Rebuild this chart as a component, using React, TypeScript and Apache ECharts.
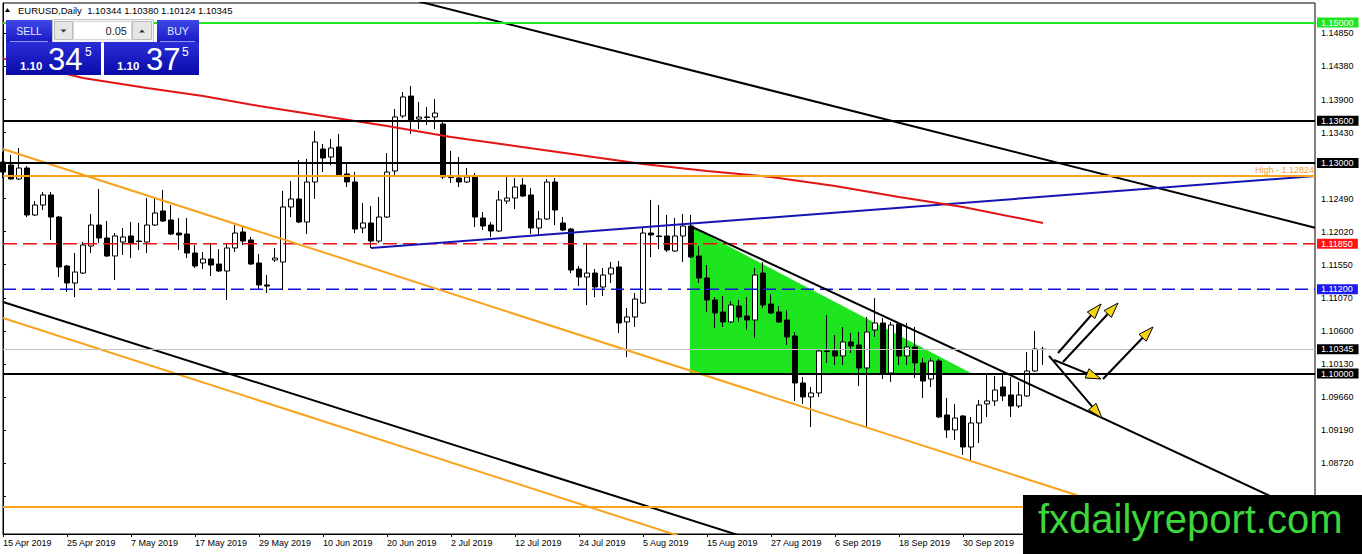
import { useEffect, useRef } from "react";
import * as echarts from "echarts";

const FONT = "'Liberation Sans', Arial, sans-serif";
const START_DATE = "2019-04-15";
const SLOTS = 165; // bars on the time axis, incl. empty future space
const LAST_LABEL = 120; // later date labels sit under the watermark
const Y_MIN = 1.077137;
const Y_MAX = 1.152778;

// daily candles, 15 Apr 2019 .. 14 Oct 2019
const opens = [
  1.13013, 1.1297, 1.12771, 1.12927, 1.12258, 1.124, 1.12543, 1.12229, 1.11531, 1.11289,
  1.11431, 1.11816, 1.12115, 1.1193, 1.11674, 1.11873, 1.11959, 1.11887, 1.11873, 1.12115,
  1.12315, 1.12187, 1.12001, 1.11987, 1.11716, 1.11574, 1.11631, 1.1156, 1.1146, 1.11788,
  1.12016, 1.11902, 1.11574, 1.11261, 1.11617, 1.11588, 1.12372, 1.12486, 1.12158, 1.12728,
  1.13198, 1.13084, 1.13227, 1.12842, 1.12728, 1.12073, 1.12144, 1.11887, 1.12229, 1.12885,
  1.13668, 1.13953, 1.13625, 1.13654, 1.13654, 1.13554, 1.12799, 1.12785, 1.12728, 1.12799,
  1.12215, 1.12115, 1.1203, 1.12457, 1.125, 1.12685, 1.12543, 1.12073, 1.12201, 1.12728,
  1.12144, 1.12058, 1.11488, 1.11374, 1.11431, 1.11232, 1.11417, 1.11517, 1.10734, 1.10805,
  1.11004, 1.12001, 1.11959, 1.11959, 1.11745, 1.11959, 1.12101, 1.11674, 1.1136, 1.11047,
  1.10876, 1.10734, 1.10961, 1.10819, 1.10762, 1.11431, 1.1099, 1.10876, 1.10762, 1.10534,
  1.09865, 1.09666, 1.09723, 1.10321, 1.10321, 1.1025, 1.10449, 1.10406, 1.10079, 1.1062,
  1.10719, 1.10007, 1.10705, 1.1025, 1.10378, 1.1015, 1.09922, 1.10178, 1.09409, 1.09196,
  1.09395, 1.08953, 1.09295, 1.09566, 1.09609, 1.09808, 1.09694, 1.09537, 1.0968, 1.10036,
  1.10344,
];
const closes = [
  1.1287, 1.12771, 1.12927, 1.12258, 1.124, 1.12543, 1.12229, 1.11517, 1.11289, 1.11446,
  1.1183, 1.12115, 1.1193, 1.11674, 1.11959, 1.11944, 1.11859, 1.1188, 1.12115, 1.12286,
  1.12172, 1.11987, 1.11973, 1.11716, 1.11531, 1.11631, 1.11545, 1.1146, 1.11788, 1.12001,
  1.11887, 1.1156, 1.11261, 1.11246, 1.11645, 1.12372, 1.12486, 1.12158, 1.12728, 1.13298,
  1.1307, 1.13212, 1.12828, 1.12728, 1.12058, 1.12144, 1.11887, 1.12229, 1.1287, 1.13654,
  1.13939, 1.13611, 1.13654, 1.13647, 1.13711, 1.12799, 1.12792, 1.12728, 1.12799, 1.12229,
  1.12101, 1.1203, 1.12472, 1.125, 1.12657, 1.12528, 1.12073, 1.12201, 1.12728, 1.12329,
  1.12044, 1.11474, 1.11374, 1.11431, 1.11232, 1.11403, 1.11503, 1.10719, 1.10805, 1.11061,
  1.12001, 1.11973, 1.11951, 1.11759, 1.11959, 1.12101, 1.11659, 1.1136, 1.11047, 1.10862,
  1.10734, 1.10976, 1.10805, 1.10762, 1.11403, 1.10976, 1.10862, 1.10734, 1.1052, 1.09865,
  1.09666, 1.09723, 1.10321, 1.10314, 1.1025, 1.10449, 1.10392, 1.10079, 1.10591, 1.10719,
  1.10007, 1.10691, 1.1025, 1.10378, 1.1015, 1.09893, 1.10178, 1.09381, 1.09196, 1.09366,
  1.08953, 1.09295, 1.09551, 1.09609, 1.09765, 1.0968, 1.09537, 1.09694, 1.10036, 1.10349,
  1.10345,
];
const lows = [
  1.12785, 1.12757, 1.12757, 1.12229, 1.12244, 1.12329, 1.11902, 1.11374, 1.11161, 1.11089,
  1.11417, 1.11716, 1.11859, 1.11659, 1.11332, 1.11688, 1.11645, 1.11759, 1.11716, 1.12101,
  1.12158, 1.11973, 1.11759, 1.11645, 1.11503, 1.11488, 1.11389, 1.11446, 1.11047, 1.11731,
  1.1183, 1.11545, 1.11203, 1.11146, 1.11588, 1.11189, 1.12229, 1.12144, 1.11987, 1.12486,
  1.1287, 1.1297, 1.12799, 1.12657, 1.12001, 1.12001, 1.11788, 1.11859, 1.12215, 1.12828,
  1.1364, 1.13412, 1.13483, 1.1354, 1.13483, 1.12771, 1.12714, 1.12657, 1.12714, 1.12087,
  1.12044, 1.11944, 1.12016, 1.12415, 1.12343, 1.12514, 1.11987, 1.11959, 1.12187, 1.12115,
  1.1203, 1.11431, 1.11246, 1.10976, 1.11089, 1.11104, 1.11289, 1.10577, 1.10235, 1.10662,
  1.1099, 1.11659, 1.11773, 1.11731, 1.11731, 1.11588, 1.11645, 1.11289, 1.10876, 1.10648,
  1.10662, 1.10719, 1.10734, 1.1062, 1.10506, 1.10933, 1.10848, 1.10719, 1.10406, 1.09609,
  1.09566, 1.09238, 1.09666, 1.1015, 1.10121, 1.10121, 1.10292, 1.09822, 1.09238, 1.1052,
  1.09922, 1.09879, 1.10121, 1.10121, 1.09936, 1.09651, 1.09808, 1.09366, 1.09082, 1.09053,
  1.08839, 1.08768, 1.0901, 1.09381, 1.09537, 1.09609, 1.09381, 1.09509, 1.09666, 1.10022,
  1.10124,
];
const highs = [
  1.13155, 1.13113, 1.13212, 1.12956, 1.12457, 1.12585, 1.12585, 1.12244, 1.11545, 1.11716,
  1.11873, 1.12272, 1.12628, 1.12172, 1.12001, 1.12073, 1.12158, 1.12144, 1.125, 1.125,
  1.12614, 1.124, 1.12215, 1.12215, 1.1183, 1.11731, 1.11859, 1.11773, 1.11845, 1.12115,
  1.12101, 1.11944, 1.11702, 1.11403, 1.11788, 1.126, 1.12742, 1.13041, 1.13056, 1.13454,
  1.13269, 1.1334, 1.13412, 1.13013, 1.1287, 1.12429, 1.12386, 1.12514, 1.13141, 1.13768,
  1.1401, 1.14095, 1.13868, 1.13796, 1.1391, 1.13611, 1.1317, 1.13084, 1.12927, 1.12856,
  1.12301, 1.12158, 1.126, 1.12813, 1.12785, 1.12785, 1.12643, 1.12315, 1.12771, 1.12785,
  1.12229, 1.12073, 1.11531, 1.11859, 1.11488, 1.11503, 1.11588, 1.11602, 1.10933, 1.11146,
  1.12087, 1.12472, 1.124, 1.12258, 1.12215, 1.12272, 1.12258, 1.11816, 1.11545, 1.11089,
  1.11104, 1.11032, 1.11047, 1.11089, 1.11503, 1.11588, 1.11132, 1.10961, 1.10904, 1.10591,
  1.0995, 1.09808, 1.10335, 1.10833, 1.10548, 1.10662, 1.10577, 1.10591, 1.10805, 1.11075,
  1.10791, 1.10734, 1.10719, 1.10719, 1.10662, 1.10221, 1.10221, 1.10207, 1.09651, 1.09566,
  1.09409, 1.09381, 1.09623, 1.09993, 1.09965, 1.09979, 1.0995, 1.09879, 1.10306, 1.10605,
  1.1038,
];

// right axis ticks (MT4 rounds its step); 1.12960 sits under the 1.13000 box
const yTicks = [
  1.1485, 1.1438, 1.139, 1.1343, 1.1296, 1.1249, 1.1202, 1.1155, 1.1107, 1.106, 1.1013,
  1.0966, 1.0919, 1.0872, 1.0825,
];
const yTickLabels = [
  1.1485, 1.1438, 1.139, 1.1343, 1.1249, 1.1202, 1.1155, 1.1107, 1.106, 1.1013, 1.0966,
  1.0919, 1.0872,
];

// horizontal levels
const LEVEL_GREEN = 1.15;
const LEVEL_BLACK_HI = 1.136;
const LEVEL_BLACK_MID = 1.13;
const LEVEL_HIGH = 1.12824;
const LEVEL_RED = 1.1185;
const LEVEL_BLUE = 1.112;
const LEVEL_LAST = 1.10345;
const LEVEL_BLACK_LO = 1.1;
const LEVEL_ORANGE_LO = 1.08098;

// trend lines, [bar index, price]
const upperBlackLine = [[52, 1.15299], [164, 1.12077]];
const blueLine = [[46, 1.11788], [164, 1.12813]];
const fallingLine = [[85.875, 1.12101], [164, 1.07956]];
const orangeUpper = [[0, 1.13198], [164, 1.07172]];
const orangeLower = [[0, 1.10791], [164, 1.04765]];
const blackLower = [[0, 1.11019], [164, 1.05093]];

// moving average
const maIdx = [0, 10, 18, 25, 32, 40, 48, 56, 64, 72, 80, 88, 96, 104, 112, 120, 130];
const maVal = [
  1.14489, 1.14209, 1.14067, 1.13953, 1.13811, 1.13668, 1.13526, 1.13369, 1.13241, 1.13113,
  1.12984, 1.12885, 1.12799, 1.12671, 1.12514, 1.12372, 1.12144,
];

// green triangle
const triIdx = [85.875, 121.1, 85.875];
const triVal = [1.12101, 1.1, 1.1];

// arrows
const arrowFromIdx = [131.875, 132.5, 131.375, 137.5, 130.75];
const arrowFromVal = [1.10292, 1.10164, 1.10192, 1.09922, 1.1025];
const arrowToIdx = [137.25, 139.375, 137.25, 143.75, 137.375];
const arrowToVal = [1.1099, 1.11004, 1.09922, 1.10663, 1.09366];

const MONTHS = ["Jan", "Feb", "Mar", "Apr", "May", "Jun", "Jul", "Aug", "Sep", "Oct", "Nov", "Dec"];

function tradingDays(start: string, n: number): string[] {
  const d = new Date(start + "T00:00:00Z");
  const out: string[] = [];
  while (out.length < n) {
    const wd = d.getUTCDay();
    if (wd !== 0 && wd !== 6) {
      out.push(`${d.getUTCDate()} ${MONTHS[d.getUTCMonth()]} ${d.getUTCFullYear()}`);
    }
    d.setUTCDate(d.getUTCDate() + 1);
  }
  return out;
}

function boxLabel(text: string, bg: string) {
  return {
    show: true,
    position: "end",
    formatter: text,
    backgroundColor: bg,
    color: "#fff",
    fontSize: 9,
    fontFamily: FONT,
    padding: [1, 5, 0, 4],
    distance: 2,
  };
}

function level(value: number, color: string, width: number, label: any) {
  return { yAxis: value, lineStyle: { color, width, type: "solid" }, label };
}

const blueGrad = (a: string, b: string) =>
  new echarts.graphic.LinearGradient(0, 0, 0, 1, [
    { offset: 0, color: a },
    { offset: 1, color: b },
  ]);

export default function App() {
  const chartRef = useRef<HTMLDivElement>(null);

  useEffect(() => {
    if (!chartRef.current) return;
    const chart = echarts.init(chartRef.current, undefined, { renderer: "svg" });

    const dates = tradingDays(START_DATE, SLOTS);
    const candles = opens.map((o, i) => [o, closes[i], lows[i], highs[i]]);
    const every8 = (i: number) => i % 8 === 0 && i <= LAST_LABEL;
    const trend = (data: number[][], color: string, width = 2, type: any = "solid") => ({
      type: "line",
      xAxisIndex: 1,
      yAxisIndex: 0,
      data,
      symbol: "none",
      silent: true,
      z: 3,
      lineStyle: { color, width, type },
    });
    const flat = (p: number) => [[0, p], [SLOTS - 1, p]];
    const arrowRows = arrowFromIdx.map((x, k) => [x, arrowFromVal[k], arrowToIdx[k], arrowToVal[k]]);

    const option: any = {
      animation: false,
      backgroundColor: "#fff",
      textStyle: { fontFamily: FONT },
      grid: {
        left: 3,
        top: 3,
        width: 1312,
        height: 531,
        show: true,
        borderColor: "#000",
        borderWidth: 1,
        containLabel: false,
        outerBoundsMode: "none",
      },
      xAxis: [
        {
          type: "category",
          data: dates,
          boundaryGap: false,
          axisLine: { lineStyle: { color: "#000", width: 1 } },
          axisTick: { interval: every8, length: 3, lineStyle: { color: "#000" } },
          axisLabel: {
            interval: every8,
            align: "left",
            margin: 4,
            fontSize: 9,
            color: "#000",
            fontFamily: FONT,
          },
          splitLine: { show: false },
        },
        { type: "value", min: 0, max: SLOTS - 1, show: false },
      ],
      yAxis: {
        type: "value",
        position: "right",
        min: Y_MIN,
        max: Y_MAX,
        axisLine: { show: true, lineStyle: { color: "#000" } },
        axisTick: { show: true, length: 3, customValues: yTicks, lineStyle: { color: "#000" } },
        axisLabel: {
          customValues: yTickLabels,
          formatter: (v: number) => v.toFixed(5),
          fontSize: 9,
          color: "#000",
          margin: 6,
          fontFamily: FONT,
        },
        splitLine: { show: false },
      },
      series: [
        {
          type: "custom",
          xAxisIndex: 1,
          yAxisIndex: 0,
          z: 1,
          silent: true,
          data: [[triIdx[0], triVal[0]]],
          encode: { x: 0, y: 1 },
          renderItem: (_p: any, api: any) => ({
            type: "polygon",
            shape: { points: triIdx.map((x, k) => api.coord([x, triVal[k]])) },
            style: { fill: "#1ee61e" },
          }),
        },
        {
          type: "candlestick",
          xAxisIndex: 0,
          yAxisIndex: 0,
          z: 2,
          barWidth: 5,
          data: candles,
          itemStyle: {
            color: "#fff",
            color0: "#000",
            borderColor: "#000",
            borderColor0: "#000",
            borderWidth: 1,
          },
          markLine: {
            silent: true,
            symbol: ["none", "none"],
            precision: 5,
            animation: false,
            data: [
              level(LEVEL_GREEN, "#1ee61e", 2, boxLabel("1.15000", "#1ee61e")),
              level(LEVEL_BLACK_HI, "#000", 2, boxLabel("1.13600", "#000")),
              level(LEVEL_BLACK_MID, "#000", 2, boxLabel("1.13000", "#000")),
              level(LEVEL_HIGH, "#f8a31b", 2, {
                show: true,
                position: "insideEndTop",
                formatter: "High - 1.12824",
                color: "#f8a31b",
                fontSize: 9,
                fontFamily: FONT,
                distance: 1,
              }),
              // dashed levels are drawn as line series; these carry only the price boxes
              level(LEVEL_RED, "rgba(0,0,0,0)", 1, boxLabel("1.11850", "#ff1414")),
              level(LEVEL_BLUE, "rgba(0,0,0,0)", 1, boxLabel("1.11200", "#1a1af0")),
              level(LEVEL_LAST, "#c0c0c0", 1, boxLabel("1.10345", "#000")),
              level(LEVEL_BLACK_LO, "#000", 2, boxLabel("1.10000", "#000")),
              level(LEVEL_ORANGE_LO, "#f8a31b", 2, { show: false }),
            ],
          },
        },
        trend(flat(LEVEL_RED), "#ee1010", 1.5, [14, 6]),
        trend(flat(LEVEL_BLUE), "#1010dd", 1.5, [13, 6]),
        trend(upperBlackLine, "#000"),
        trend(blueLine, "#1515b5"),
        trend(fallingLine, "#000"),
        trend(orangeUpper, "#f8a31b"),
        trend(orangeLower, "#f8a31b"),
        trend(blackLower, "#000"),
        trend(
          maIdx.map((x, k) => [x, maVal[k]]),
          "#e01414"
        ),
        {
          type: "custom",
          xAxisIndex: 1,
          yAxisIndex: 0,
          z: 6,
          silent: true,
          data: arrowRows,
          encode: { x: [0, 2], y: [1, 3] },
          renderItem: (_p: any, api: any) => {
            const a = api.coord([api.value(0), api.value(1)]);
            const b = api.coord([api.value(2), api.value(3)]);
            const dx = b[0] - a[0];
            const dy = b[1] - a[1];
            const len = Math.hypot(dx, dy) || 1;
            const ux = dx / len;
            const uy = dy / len;
            const hl = 15;
            const hw = 5;
            const bx = b[0] - ux * hl;
            const by = b[1] - uy * hl;
            return {
              type: "group",
              children: [
                {
                  type: "line",
                  shape: { x1: a[0], y1: a[1], x2: bx, y2: by },
                  style: { stroke: "#000", lineWidth: 2 },
                },
                {
                  type: "polygon",
                  shape: {
                    points: [
                      [b[0], b[1]],
                      [bx - uy * hw, by + ux * hw],
                      [bx + uy * hw, by - ux * hw],
                    ],
                  },
                  style: { fill: "#f5d312", stroke: "#000", lineWidth: 1 },
                },
              ],
            };
          },
        },
      ],
      graphic: [
        // header
        { type: "polygon", z: 100, shape: { points: [[5, 12], [10, 12], [7.5, 8]] }, style: { fill: "#000" } },
        {
          type: "text",
          z: 100,
          x: 18,
          y: 10,
          style: {
            text: "EURUSD,Daily  1.10344 1.10380 1.10124 1.10345",
            fill: "#000",
            font: `9.5px ${FONT}`,
            verticalAlign: "middle",
          },
        },
        // one-click trading panel
        { type: "rect", z: 100, shape: { x: 6, y: 20, width: 46, height: 22 }, style: { fill: blueGrad("#4048e6", "#1a1ac6") } },
        { type: "text", z: 101, x: 29, y: 31, style: { text: "SELL", fill: "#e2e9ff", font: `10.5px ${FONT}`, align: "center", verticalAlign: "middle" } },
        { type: "line", z: 101, shape: { x1: 10, y1: 41.5, x2: 48, y2: 41.5 }, style: { stroke: "#8d96f0", lineWidth: 1 } },
        { type: "rect", z: 100, shape: { x: 52.5, y: 19.5, width: 101, height: 23 }, style: { fill: "#f4f4f4", stroke: "#c4c4c4", lineWidth: 1 } },
        { type: "rect", z: 101, shape: { x: 54.5, y: 21.5, width: 18, height: 18 }, style: { fill: "#e6e6e6", stroke: "#bdbdbd", lineWidth: 1 } },
        { type: "rect", z: 101, shape: { x: 73.5, y: 21.5, width: 58, height: 18 }, style: { fill: "#fff", stroke: "#d6d6d6", lineWidth: 1 } },
        { type: "rect", z: 101, shape: { x: 132.5, y: 21.5, width: 19, height: 18 }, style: { fill: "#e6e6e6", stroke: "#bdbdbd", lineWidth: 1 } },
        { type: "polygon", z: 102, shape: { points: [[60.5, 29.5], [66.5, 29.5], [63.5, 32.5]] }, style: { fill: "#333" } },
        { type: "polygon", z: 102, shape: { points: [[139, 32.5], [145, 32.5], [142, 29.5]] }, style: { fill: "#333" } },
        { type: "text", z: 102, x: 127, y: 31, style: { text: "0.05", fill: "#222", font: `11px ${FONT}`, align: "right", verticalAlign: "middle" } },
        { type: "rect", z: 100, shape: { x: 157, y: 20, width: 42, height: 22 }, style: { fill: blueGrad("#4048e6", "#1a1ac6") } },
        { type: "text", z: 101, x: 178, y: 31, style: { text: "BUY", fill: "#e2e9ff", font: `10.5px ${FONT}`, align: "center", verticalAlign: "middle" } },
        { type: "line", z: 101, shape: { x1: 160, y1: 41.5, x2: 195, y2: 41.5 }, style: { stroke: "#8d96f0", lineWidth: 1 } },
        { type: "rect", z: 100, shape: { x: 6, y: 42, width: 95, height: 33 }, style: { fill: blueGrad("#2a2ed8", "#0a0aa8") } },
        { type: "rect", z: 100, shape: { x: 104, y: 42, width: 95, height: 33 }, style: { fill: blueGrad("#2a2ed8", "#0a0aa8") } },
        { type: "text", z: 101, x: 20, y: 66, style: { text: "1.10", fill: "#fff", font: `bold 11.5px ${FONT}`, verticalAlign: "middle" } },
        { type: "text", z: 101, x: 48, y: 59.5, style: { text: "34", fill: "#fff", font: `31px ${FONT}`, verticalAlign: "middle" } },
        { type: "text", z: 101, x: 85, y: 51.5, style: { text: "5", fill: "#fff", font: `12px ${FONT}`, verticalAlign: "middle" } },
        { type: "text", z: 101, x: 117, y: 66, style: { text: "1.10", fill: "#fff", font: `bold 11.5px ${FONT}`, verticalAlign: "middle" } },
        { type: "text", z: 101, x: 146, y: 59.5, style: { text: "37", fill: "#fff", font: `31px ${FONT}`, verticalAlign: "middle" } },
        { type: "text", z: 101, x: 182, y: 51.5, style: { text: "5", fill: "#fff", font: `12px ${FONT}`, verticalAlign: "middle" } },
        // watermark
        { type: "rect", z: 100, shape: { x: 1023, y: 495, width: 339, height: 59 }, style: { fill: "#000" } },
        {
          type: "text",
          z: 101,
          x: 1038,
          y: 519,
          style: { text: "fxdailyreport.com", fill: "#3dd63d", font: `40px ${FONT}`, verticalAlign: "middle" },
        },
      ],
    };

    chart.setOption(option);
    return () => chart.dispose();
  }, []);

  return (
    <div
      ref={chartRef}
      style={{ position: "absolute", left: 0, top: 0, width: 1362, height: 554, background: "#fff" }}
    />
  );
}
